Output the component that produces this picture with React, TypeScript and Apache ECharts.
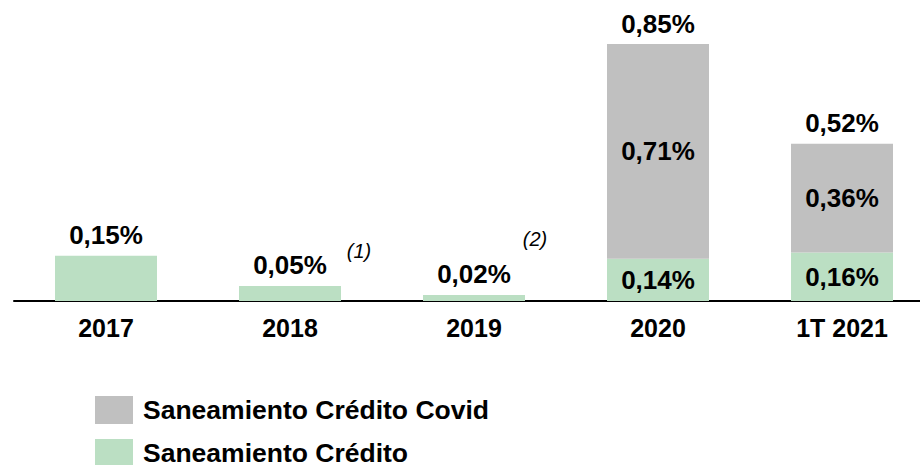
import React, { useEffect, useRef } from "react";
import * as echarts from "echarts";

const categories = ["2017", "2018", "2019", "2020", "1T 2021"];
const credito = [0.15, 0.05, 0.02, 0.14, 0.16];
const covid = [null, null, null, 0.71, 0.36];
const totals = [0.15, 0.05, 0.02, 0.85, 0.52];
const notes = [
  { text: "(1)", x: 359, y: 251 },
  { text: "(2)", x: 535, y: 239 },
];

const FONT = "'Liberation Sans', Arial, sans-serif";
const fmt = (v: number) => v.toFixed(2).replace(".", ",") + "%";

export default function App() {
  const ref = useRef<HTMLDivElement>(null);
  useEffect(() => {
    document.body.style.margin = "0";
    if (!ref.current) return;
    const chart = echarts.init(ref.current, null, { renderer: "svg" });
    const labelStyle = { fontFamily: FONT, fontWeight: "bold" as const, fontSize: 26, color: "#000" };
    chart.setOption({
      animation: false,
      grid: { left: 14, right: -14, top: 44, bottom: 164, outerBoundsMode: "none", containLabel: false },
      xAxis: {
        type: "category",
        data: categories,
        axisTick: { show: false },
        axisLine: { lineStyle: { color: "#000", width: 2 } },
        axisLabel: { ...labelStyle, fontSize: 25, margin: 14, interval: 0 },
      },
      yAxis: { type: "value", min: 0, max: 0.85, show: false, splitLine: { show: false } },
      legend: {
        orient: "vertical",
        left: 90,
        top: 391,
        height: 150,
        padding: 5,
        itemWidth: 38,
        itemHeight: 28,
        itemGap: 15,
        icon: "rect",
        data: ["Saneamiento Crédito Covid", "Saneamiento Crédito"],
        textStyle: { ...labelStyle, fontSize: 26.5, lineHeight: 24, padding: [0, 0, 0, 5] },
      },
      series: [
        {
          name: "Saneamiento Crédito",
          type: "bar",
          stack: "a",
          barWidth: 102,
          itemStyle: { color: "#bbdfc3" },
          data: credito.map((v, i) => ({
            value: v,
            label: { show: i >= 3 },
          })),
          label: { ...labelStyle, position: "inside", formatter: (p: any) => fmt(p.value) },
        },
        {
          name: "Saneamiento Crédito Covid",
          type: "bar",
          stack: "a",
          barWidth: 102,
          itemStyle: { color: "#c0c0c0" },
          data: covid,
          label: {
            ...labelStyle,
            show: true,
            position: "inside",
            formatter: (p: any) => (p.value == null ? "" : fmt(p.value)),
          },
        },
        {
          name: "total",
          type: "scatter",
          symbolSize: 1,
          itemStyle: { color: "rgba(0,0,0,0)", opacity: 1 },
          data: totals,
          label: {
            ...labelStyle,
            show: true,
            position: "top",
            distance: 7,
            formatter: (p: any) => fmt(p.value),
          },
          silent: true,
        },
      ],
      graphic: notes.map((n) => ({
        type: "text",
        x: n.x,
        y: n.y,
        style: {
          text: n.text,
          font: `italic 20px ${FONT}`,
          fill: "#000",
          align: "center",
          verticalAlign: "middle",
        },
      })),
    });
    return () => chart.dispose();
  }, []);
  return <div ref={ref} style={{ width: 920, height: 465 }} />;
}
